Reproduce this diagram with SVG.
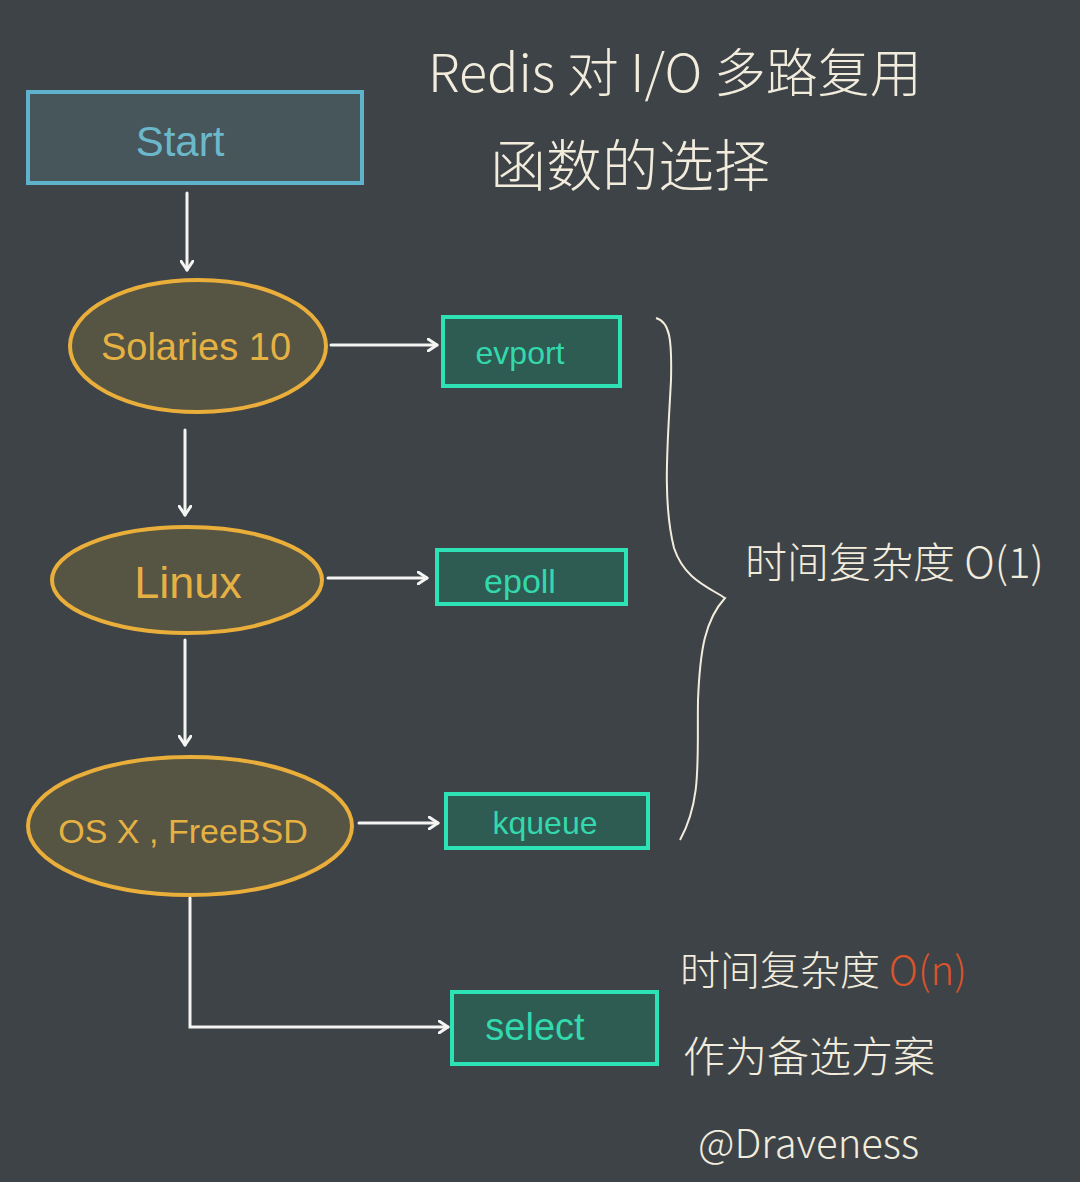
<svg xmlns="http://www.w3.org/2000/svg" width="1080" height="1182" viewBox="0 0 1080 1182">
<defs>
<marker id="ah" markerWidth="12" markerHeight="14" refX="10" refY="7" orient="auto" markerUnits="userSpaceOnUse">
<path d="M1,1 L10,7 L1,13" fill="none" stroke="#f4f4f2" stroke-width="3" stroke-linecap="round" stroke-linejoin="round"/>
</marker>
</defs>
<style>
.bg{fill:#3e4348}
.start{fill:#47565b;stroke:#5fb2cb;stroke-width:4}
.os{fill:#565443;stroke:#eaae3a;stroke-width:4}
.fn{fill:#2e5b52;stroke:#2de3b6;stroke-width:4}
.conn{fill:none;stroke:#f4f4f2;stroke-width:3;stroke-linecap:round}
.t{font-family:"Liberation Sans","Noto Sans CJK SC",sans-serif;font-weight:300}
.ts{fill:#6cb8cb}
.to{fill:#e6b143}
.tf{fill:#33d9ad}
.tw{fill:#f2ecdc}
.cjk{font-family:"Noto Sans CJK SC","Liberation Sans",sans-serif;font-weight:300}
</style>
<rect class="bg" x="0" y="0" width="1080" height="1182"/>

<g id="title">
<text class="cjk tw" x="428" y="92" font-size="52">Redis 对 I/O 多路复用</text>
<text class="cjk tw" x="490" y="186" font-size="56">函数的选择</text>
</g>

<g id="connectors">
<line class="conn" x1="187" y1="193" x2="187" y2="270" marker-end="url(#ah)"/>
<line class="conn" x1="331" y1="345" x2="437" y2="345" marker-end="url(#ah)"/>
<line class="conn" x1="185" y1="430" x2="185" y2="515" marker-end="url(#ah)"/>
<line class="conn" x1="328" y1="578" x2="427" y2="578" marker-end="url(#ah)"/>
<line class="conn" x1="185" y1="640" x2="185" y2="745" marker-end="url(#ah)"/>
<line class="conn" x1="359" y1="823" x2="438" y2="823" marker-end="url(#ah)"/>
<polyline class="conn" points="190,898 190,1027 448,1027" marker-end="url(#ah)"/>
</g>

<g id="start">
<rect class="start" x="28" y="92" width="334" height="91"/>
<text class="t ts" x="180" y="156" text-anchor="middle" font-size="42">Start</text>
</g>

<g id="solaris">
<ellipse class="os" cx="198" cy="346" rx="128" ry="66"/>
<text class="t to" x="196" y="360" text-anchor="middle" font-size="38">Solaries 10</text>
</g>
<g id="evport">
<rect class="fn" x="443" y="317" width="177" height="69"/>
<text class="t tf" x="520" y="364" text-anchor="middle" font-size="32">evport</text>
</g>

<g id="linux">
<ellipse class="os" cx="187" cy="580" rx="135" ry="53"/>
<text class="t to" x="188" y="598" text-anchor="middle" font-size="45">Linux</text>
</g>
<g id="epoll">
<rect class="fn" x="437" y="550" width="189" height="54"/>
<text class="t tf" x="520" y="593" text-anchor="middle" font-size="34">epoll</text>
</g>

<g id="osx">
<ellipse class="os" cx="190" cy="826" rx="162" ry="69"/>
<text class="t to" x="183" y="843" text-anchor="middle" font-size="34">OS X , FreeBSD</text>
</g>
<g id="kqueue">
<rect class="fn" x="446" y="794" width="202" height="54"/>
<text class="t tf" x="545" y="834" text-anchor="middle" font-size="32">kqueue</text>
</g>

<g id="select">
<rect class="fn" x="452" y="992" width="205" height="72"/>
<text class="t tf" x="535" y="1040" text-anchor="middle" font-size="38">select</text>
</g>

<g id="brace">
<path d="M656,318 C670,322 672,340 671,380 C668,440 662,500 674,548 C684,578 706,586 725,598 C705,620 700,650 698,700 C697,760 702,800 680,840" fill="none" stroke="#f2ecdc" stroke-width="2"/>
</g>

<g id="o1">
<text class="cjk tw" x="745" y="578" font-size="42">时间复杂度 O(1)</text>
</g>

<g id="note">
<text class="cjk tw" x="680" y="985" font-size="40">时间复杂度 <tspan fill="#d9542b">O(n)</tspan></text>
<text class="cjk tw" x="683" y="1072" font-size="42">作为备选方案</text>
<text class="cjk tw" x="698" y="1158" font-size="40">@Draveness</text>
</g>
</svg>
